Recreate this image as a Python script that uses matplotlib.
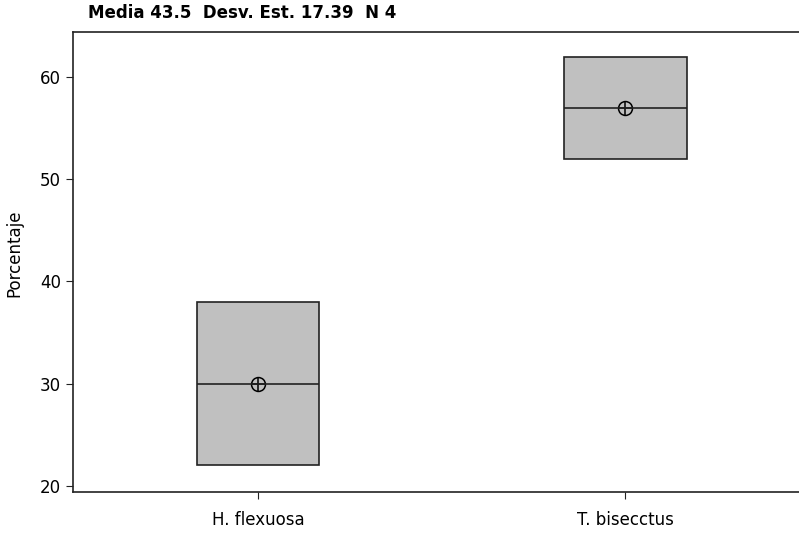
import matplotlib
matplotlib.use("Agg")
import matplotlib.pyplot as plt

categories = ["H. flexuosa", "T. bisecctus"]
q1 = [22, 52]
medians = [30, 57]
q3 = [38, 62]
means = [30, 57]
title = "Media 43.5  Desv. Est. 17.39  N 4"

fig = plt.figure(figsize=(7.99, 5.34), dpi=100)
ax = fig.add_axes([0.0914, 0.0787, 0.9086, 0.8613])

stats = []
for i, name in enumerate(categories):
    stats.append({"label": name, "q1": q1[i], "med": medians[i], "q3": q3[i],
                  "whislo": q1[i], "whishi": q3[i], "fliers": []})

pos = list(range(1, len(categories) + 1))
ax.bxp(stats, positions=pos, widths=0.335, patch_artist=True,
       showcaps=False, showfliers=False,
       boxprops=dict(facecolor="#c0c0c0", edgecolor="#222222", linewidth=1.2),
       medianprops=dict(color="#222222", linewidth=1.2),
       whiskerprops=dict(color="#222222", linewidth=1.2))

ax.plot(pos, means, linestyle="none", marker="o", markersize=10,
        markerfacecolor="none", markeredgecolor="black", markeredgewidth=1.1)
ax.plot(pos, means, linestyle="none", marker="+", markersize=10,
        markeredgecolor="black", markeredgewidth=1.1)

ax.set_xlim(0.496, 2.474)
ax.set_ylim(19.41, 64.4)
ax.set_yticks([20, 30, 40, 50, 60])
ax.set_xticks(pos)
ax.set_xticklabels(categories)
ax.tick_params(labelsize=12, length=5, color="#222222")
ax.tick_params(axis="x", pad=9)
ax.set_ylabel("Porcentaje", fontsize=12)
ax.yaxis.set_label_coords(-0.068, 0.52)

ax.spines["right"].set_visible(False)
for s in ["left", "top", "bottom"]:
    ax.spines[s].set_color("#222222")
    ax.spines[s].set_linewidth(1.2)

fig.text(88 / 799, 1 - 13 / 534, title, fontsize=12, fontweight="bold",
         ha="left", va="center")

fig.savefig("out.png", dpi=100)
